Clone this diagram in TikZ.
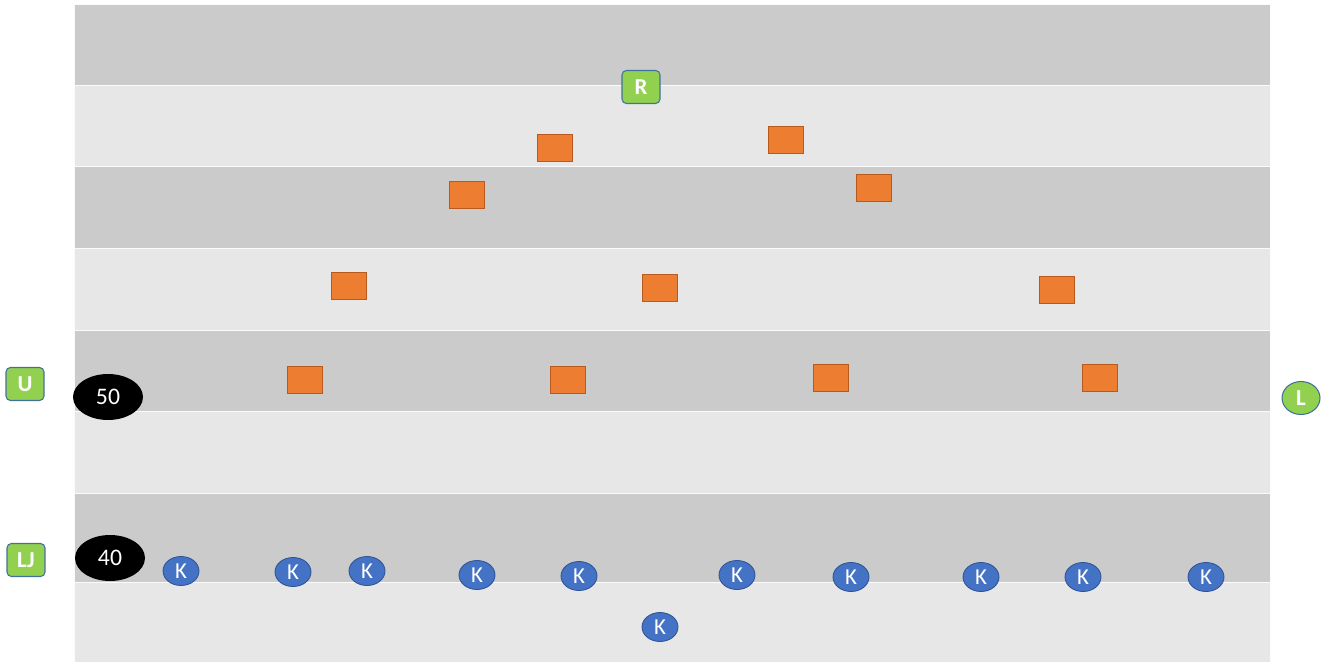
\documentclass[tikz,border=0pt]{standalone}
\usepackage{fontspec}
\setmainfont{Carlito}
\usepackage{tikz}
\usetikzlibrary{shapes.geometric, positioning}
\definecolor{laneDark}{HTML}{CBCBCB}
\definecolor{laneLight}{HTML}{E7E7E7}
\definecolor{tagGreen}{HTML}{92D050}
\definecolor{tagEdge}{HTML}{41719C}
\definecolor{boxOrange}{HTML}{ED7D31}
\definecolor{boxOrangeEdge}{HTML}{B85A1E}
\definecolor{kBlue}{HTML}{4472C4}
\definecolor{kEdge}{HTML}{2F5597}
\tikzset{
    lane_dark/.style={fill=laneDark, draw=white!92!laneDark, line width=0.5pt},
    lane_light/.style={fill=laneLight, draw=white!92!laneDark, line width=0.5pt},
    tag_green/.style={
        rectangle, rounded corners=2.5pt, draw=tagEdge, line width=0.6pt,
        fill=tagGreen, text=white, minimum width=0.76cm, minimum height=0.66cm,
        inner sep=0pt, font=\fontsize{13}{15}\selectfont\bfseries
    },
    tag_round/.style={
        ellipse, draw=tagEdge, line width=0.6pt, fill=tagGreen, text=white,
        minimum width=0.76cm, minimum height=0.66cm, inner sep=0pt,
        font=\fontsize{13}{15}\selectfont\bfseries
    },
    score_oval/.style={
        ellipse, fill=black, text=white, minimum width=1.4cm, minimum height=0.92cm,
        inner sep=0pt, font=\fontsize{13.5}{16}\selectfont
    },
    box_orange/.style={
        rectangle, fill=boxOrange, draw=boxOrangeEdge, line width=0.5pt,
        minimum width=0.7cm, minimum height=0.54cm, inner sep=0pt
    },
    k_oval/.style={
        ellipse, fill=kBlue, draw=kEdge, line width=0.5pt, text=white,
        minimum width=0.72cm, minimum height=0.58cm, inner sep=0pt,
        font=\fontsize{13}{15}\selectfont
    }
}
\begin{document}
\begin{tikzpicture}[x=0.02cm, y=-0.02cm]
\useasboundingbox (0,0) rectangle (1321,662);
% lanes
\fill[lane_dark] (74,4) rectangle (1270,85);
\fill[lane_light] (74,85) rectangle (1270,166);
\fill[lane_dark] (74,166) rectangle (1270,248);
\fill[lane_light] (74,248) rectangle (1270,330);
\fill[lane_dark] (74,330) rectangle (1270,411);
\fill[lane_light] (74,411) rectangle (1270,493);
\fill[lane_dark] (74,493) rectangle (1270,582);
\fill[lane_light] (74,582) rectangle (1270,662);

% tags
\node[tag_green] (r_tag) at (641,87) {R};
\node[tag_green] (u_tag) at (25,384) {U};
\node[tag_green] (lj_tag) at (26,560) {LJ};
\node[tag_round] (l_tag) at (1301,398) {L};

\node[score_oval] (score50) at (108,397) {50};
\node[score_oval] (score40) at (110,558) {40};

% orange boxes
\node[box_orange] (box1) at (555,148) {};
\node[box_orange] (box2) at (786,140) {};
\node[box_orange] (box3) at (467,195) {};
\node[box_orange] (box4) at (874,188) {};
\node[box_orange] (box5) at (349,286) {};
\node[box_orange] (box6) at (660,288) {};
\node[box_orange] (box7) at (1057,290) {};
\node[box_orange] (box8) at (305,380) {};
\node[box_orange] (box9) at (568,380) {};
\node[box_orange] (box10) at (831,378) {};
\node[box_orange] (box11) at (1100,378) {};

% K ovals
\node[k_oval] (k1) at (181,571) {K};
\node[k_oval] (k2) at (293,572) {K};
\node[k_oval] (k3) at (367,571) {K};
\node[k_oval] (k4) at (477,575) {K};
\node[k_oval] (k5) at (579,576) {K};
\node[k_oval] (k6) at (737,575) {K};
\node[k_oval] (k7) at (851,577) {K};
\node[k_oval] (k8) at (981,577) {K};
\node[k_oval] (k9) at (1083,577) {K};
\node[k_oval] (k10) at (1206,577) {K};
\node[k_oval] (k11) at (660,627) {K};
\end{tikzpicture}
\end{document}
